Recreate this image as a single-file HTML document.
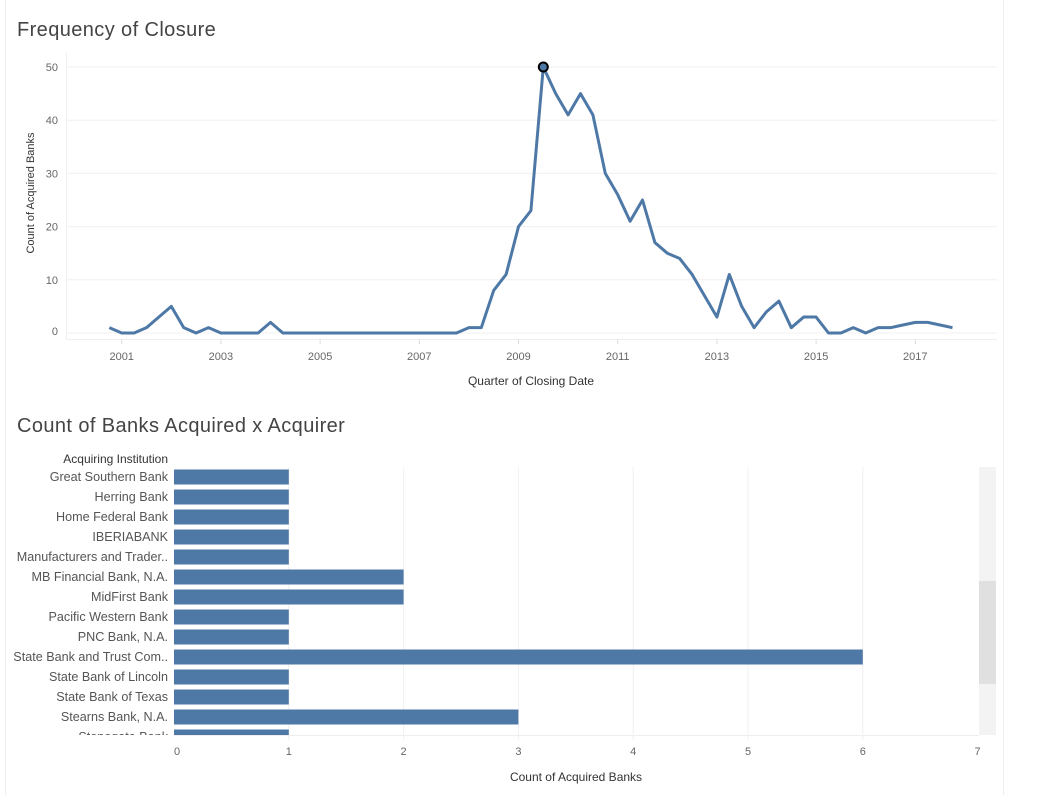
<!DOCTYPE html>
<html><head><meta charset="utf-8">
<style>
body{margin:0;background:#fff;font-family:"Liberation Sans",sans-serif;}
svg text{font-family:"Liberation Sans",sans-serif;}
</style></head>
<body>
<svg id="c" width="1051" height="795" xmlns="http://www.w3.org/2000/svg">
<line x1="5.5" y1="0" x2="5.5" y2="795" stroke="#eee"/>
<line x1="1003.5" y1="0" x2="1003.5" y2="795" stroke="#eee"/>
<text x="17" y="36" font-size="20" letter-spacing="0.4" fill="#444">Frequency of Closure</text>
<g id="line"></g>
<text x="531" y="385" font-size="12" fill="#333" text-anchor="middle">Quarter of Closing Date</text>
<text transform="translate(34,193) rotate(-90)" font-size="11" fill="#333" text-anchor="middle">Count of Acquired Banks</text>
<text x="17" y="432" font-size="20" letter-spacing="0.4" fill="#444">Count of Banks Acquired x Acquirer</text>
<text x="168" y="463" font-size="12" fill="#333" text-anchor="end">Acquiring Institution</text>
<g id="bar"></g>
<text x="576" y="781" font-size="12" fill="#333" text-anchor="middle">Count of Acquired Banks</text>
<rect x="979" y="467" width="17" height="268" fill="#f3f3f3"/>
<rect x="979" y="581" width="17" height="103" fill="#e0e0e0"/>
</svg>
<script>
const quarterStart = 2000.75;
const counts = [1,0,0,1,3,5,1,0,1,0,0,0,0,2,0,0,0,0,0,0,0,0,0,0,0,0,0,0,0,1,1,8,11,20,23,50,45,41,45,41,30,26,21,25,17,15,14,11,7,3,11,5,1,4,6,1,3,3,0,0,1,0,1,1,1.5,2,2,1.5,1];
const yTicks = [0,10,20,30,40,50];
const xTickYears = [2001,2003,2005,2007,2009,2011,2013,2015,2017];
const banks = ["Great Southern Bank","Herring Bank","Home Federal Bank","IBERIABANK","Manufacturers and Trader..","MB Financial Bank, N.A.","MidFirst Bank","Pacific Western Bank","PNC Bank, N.A.","State Bank and Trust Com..","State Bank of Lincoln","State Bank of Texas","Stearns Bank, N.A.","Stonegate Bank"];
const acquired = [1,1,1,1,1,2,2,1,1,6,1,1,3,1];
const barTicks = [0,1,2,3,4,5,6,7];

const NS="http://www.w3.org/2000/svg";
function mk(tag,attrs,parent){const e=document.createElementNS(NS,tag);for(const k in attrs)e.setAttribute(k,attrs[k]);parent.appendChild(e);return e;}
// line chart
const L=document.getElementById('line');
const yS=v=>333-v*(266/50);
const xS=t=>109.3+(t-quarterStart)*4*12.4;
yTicks.forEach(v=>{
  const g=mk('line',{x1:66,x2:997,y1:yS(v),y2:yS(v),stroke:'#f0f0f0'},L);
  
  
  const t=mk('text',{x:58,y:Math.min(yS(v),331)+4,'font-size':11,fill:'#666','text-anchor':'end'},L);
  t.textContent=v;
  
  
});
const ax=mk('line',{x1:66,x2:997,y1:339.5,y2:339.5,stroke:'#eee'},L);


const ay=mk('line',{x1:66.5,x2:66.5,y1:52,y2:339,stroke:'#f0f0f0'},L);


xTickYears.forEach(y=>{
  const x=xS(y);
  const tk=mk('line',{x1:x,x2:x,y1:339,y2:344,stroke:'#ddd'},L);
  
  
  const t=mk('text',{x:x,y:360,'font-size':11,fill:'#666','text-anchor':'middle'},L);
  t.textContent=y;
  
  
});
const pts=counts.map((v,i)=>[xS(quarterStart+i/4),yS(v)]);
const p=mk('polyline',{points:pts.map(q=>q.join(',')).join(' '),fill:'none',stroke:'#4e79a7','stroke-width':3,'stroke-linejoin':'round'},L);


let mi=0;counts.forEach((v,i)=>{if(v>counts[mi])mi=i;});
const pk=mk('circle',{cx:pts[mi][0],cy:pts[mi][1],r:4.5,fill:'#4e79a7',stroke:'#000','stroke-width':2},L);


// bar chart
const B=document.getElementById('bar');
const bx=v=>174+v*114.8;
barTicks.forEach(v=>{
  if(v>0&&v<7){const g=mk('line',{x1:bx(v),x2:bx(v),y1:467,y2:740,stroke:'#f0f0f0'},B);
  
  }
  const t=mk('text',{x:bx(v)+(v==0?3:0),y:755,'font-size':11,fill:'#666','text-anchor':'middle'},B);
  t.textContent=v;
  
  
});
const cp=mk('clipPath',{id:'clip'},B);mk('rect',{x:0,y:466,width:979,height:269},cp);
const rows=mk('g',{'clip-path':'url(#clip)'},B);
banks.forEach((b,i)=>{
  const cy=477+i*20;
  const r=mk('rect',{x:174,y:cy-7.5,width:bx(acquired[i])-174,height:15,fill:'#4e79a7'},rows);
  
  
  const t=mk('text',{x:168,y:cy+4,'font-size':12.6,fill:'#555','text-anchor':'end'},rows);
  t.textContent=b;
  
  
});
const bl=mk('line',{x1:174,x2:979,y1:735.5,y2:735.5,stroke:'#eee'},B);


</script>
</body></html>
